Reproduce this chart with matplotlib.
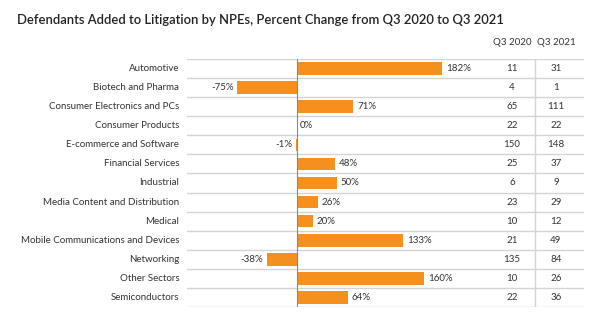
import matplotlib
matplotlib.use("Agg")
import matplotlib.pyplot as plt

plt.rcParams['font.family'] = ['Lato', 'DejaVu Sans']

sectors = ["Automotive", "Biotech and Pharma", "Consumer Electronics and PCs",
           "Consumer Products", "E-commerce and Software", "Financial Services",
           "Industrial", "Media Content and Distribution", "Medical",
           "Mobile Communications and Devices", "Networking", "Other Sectors",
           "Semiconductors"]
pct_change = [182, -75, 71, 0, -1, 48, 50, 26, 20, 133, -38, 160, 64]
q3_2020 = [11, 4, 65, 22, 150, 25, 6, 23, 10, 21, 135, 10, 22]
q3_2021 = [31, 1, 111, 22, 148, 37, 9, 29, 12, 49, 84, 26, 36]
col_headers = ["Q3 2020", "Q3 2021"]

W, H = 602, 324
fig = plt.figure(figsize=(W / 100, H / 100), dpi=100)

top, bottom = 59, 307
ax = fig.add_axes([187 / W, 1 - bottom / H, (489 - 187) / W, (bottom - top) / H])
tab = fig.add_axes([489 / W, 1 - bottom / H, (584 - 489) / W, (bottom - top) / H])

n = len(sectors)
rows = list(range(n))
orange = "#F5901E"
grid_c = "#d4d4d4"
txt_c = "#333333"
fs = 7.0

ax.barh(rows, pct_change, height=0.66, color=orange, zorder=2)
ax.axvline(0, color="#8a8a8a", lw=0.8, zorder=3)
ax.set_xlim(-138.4, 241.5)

for a in (ax, tab):
    a.set_ylim(n - 0.5, -0.5)
    for k in range(n + 1):
        a.axhline(k - 0.5, color=grid_c, lw=1.0, zorder=1)
    a.axis("off")

for i, v in enumerate(pct_change):
    if v > 0:
        ax.text(v + 5, i, f"{v}%", ha="left", va="center", fontsize=fs, color=txt_c)
    elif v < 0:
        ax.text(v - 5, i, f"{v}%", ha="right", va="center", fontsize=fs, color=txt_c)
    else:
        ax.text(4, i, f"{v}%", ha="left", va="center", fontsize=fs, color=txt_c)
    ax.text(-148, i, sectors[i], ha="right", va="center", fontsize=fs,
            color=txt_c, clip_on=False)

# little table of raw counts to the right
tab.set_xlim(0, 95)
tab.axvline(46, color=grid_c, lw=1.0)
for i in rows:
    tab.text(23, i, str(q3_2020[i]), ha="center", va="center", fontsize=fs, color=txt_c)
    tab.text(67, i, str(q3_2021[i]), ha="center", va="center", fontsize=fs, color=txt_c)
tab.text(23, -1.35, col_headers[0], ha="center", va="center", fontsize=fs, color=txt_c, clip_on=False)
tab.text(67, -1.35, col_headers[1], ha="center", va="center", fontsize=fs, color=txt_c, clip_on=False)

fig.text(17 / W, 1 - 20 / H, "Defendants Added to Litigation by NPEs, Percent Change from Q3 2020 to Q3 2021",
         ha="left", va="center", fontsize=9.4, fontweight="semibold", color="#222222")

fig.savefig("out.png", dpi=100, facecolor="white")
